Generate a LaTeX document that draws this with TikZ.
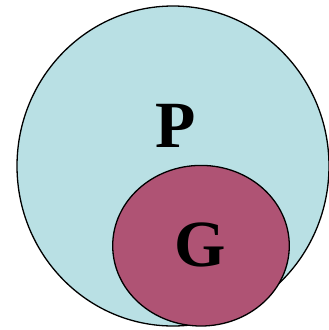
\documentclass[tikz,border=0pt]{standalone}
\usepackage{fontspec}
\setmainfont{Liberation Serif}
\definecolor{pcyan}{RGB}{185,224,228}
\definecolor{gmag}{RGB}{175,83,116}
\begin{document}
\begin{tikzpicture}[x=1pt,y=-1pt,
  setshape/.style={draw=black,line width=1.3pt},
  lbl/.style={font=\bfseries\fontsize{66}{66}\selectfont,inner sep=0pt,anchor=base}]
\useasboundingbox (0,0) rectangle (329,330);
\draw[setshape,fill=pcyan] (173,166) ellipse [x radius=156,y radius=160];
\draw[setshape,fill=gmag] (201,245.7) ellipse [x radius=88.3,y radius=80.3];
\node[lbl] (P) at (176,147) {P};
\node[lbl] (G) at (200,266) {G};
\end{tikzpicture}
\end{document}
